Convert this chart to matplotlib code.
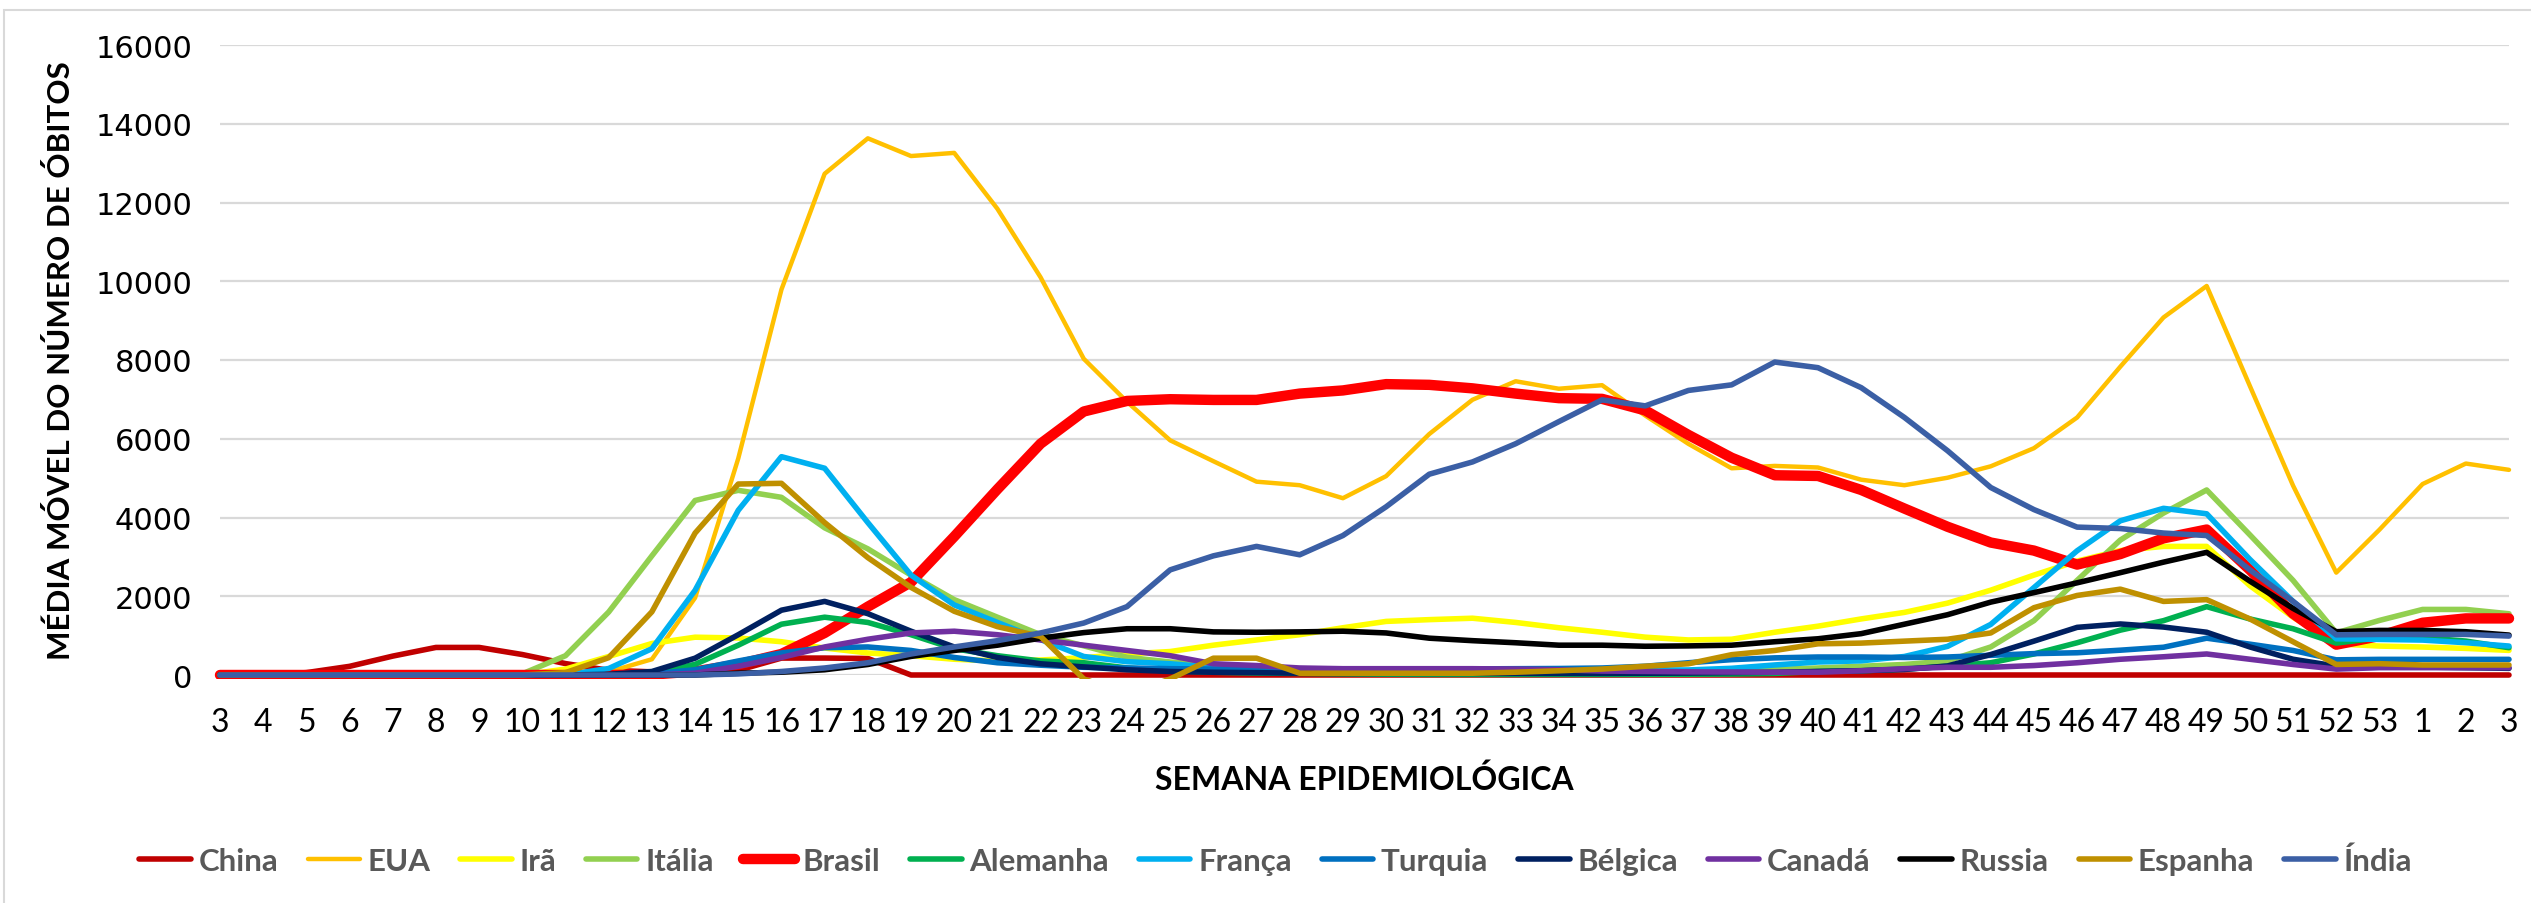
import matplotlib
matplotlib.use("Agg")
import matplotlib.pyplot as plt
from matplotlib.patches import Rectangle
from matplotlib.transforms import Bbox, TransformedBbox

# semanas epidemiologicas (2020 -> 2021)
semanas = [str(w) for w in range(3, 54)] + ["1", "2", "3"]

# media movel do numero de obitos, lida do grafico
# linhas: sem 3-12 | 13-22 | 23-32 | 33-42 | 43-52 | 53,1,2,3
china = [0, 0, 60, 220, 480, 700, 700, 520, 290, 120,
         80, 60, 120, 430, 430, 420, 0, 0, 0, 0,
         0, 0, 0, 0, 0, 0, 0, 0, 0, 0,
         0, 0, 0, 0, 0, 0, 0, 0, 0, 0,
         0, 0, 0, 0, 0, 0, 0, 0, 0, 0,
         0, 0, 0, 0]
eua = [0, 0, 0, 0, 0, 0, 0, 0, 20, 80,
       400, 1960, 5500, 9790, 12730, 13630, 13180, 13260, 11840, 10100,
       8030, 6940, 5960, 5430, 4910, 4820, 4490, 5050, 6120, 6990,
       7460, 7270, 7360, 6590, 5870, 5250, 5310, 5270, 4960, 4820,
       5010, 5300, 5760, 6540, 7830, 9080, 9880, 7340, 4810, 2600,
       3690, 4850, 5370, 5210]
ira = [0, 0, 0, 0, 0, 0, 0, 0, 150, 470,
       800, 960, 940, 845, 685, 560, 490, 400, 356, 380,
       440, 534, 596, 757, 890, 1023, 1200, 1361, 1406, 1442,
       1335, 1200, 1086, 961, 890, 908, 1086, 1240, 1424, 1590,
       1825, 2154, 2537, 2893, 3160, 3266, 3266, 2270, 1468, 790,
       735, 710, 676, 625]
italia = [0, 0, 0, 0, 0, 0, 0, 30, 490, 1600,
          3026, 4432, 4690, 4512, 3738, 3204, 2537, 1914, 1468, 1023,
          740, 450, 330, 250, 180, 120, 90, 70, 60, 60,
          60, 70, 80, 90, 100, 110, 140, 178, 222, 267,
          356, 712, 1380, 2403, 3427, 4112, 4699, 3560, 2403, 1070,
          1386, 1665, 1665, 1555]
brasil = [0, 0, 0, 0, 0, 0, 0, 0, 0, 0,
          10, 90, 270, 534, 1068, 1735, 2358, 3515, 4717, 5874,
          6692, 6960, 7004, 6986, 6986, 7147, 7227, 7387, 7369, 7280,
          7147, 7031, 7013, 6720, 6097, 5518, 5073, 5055, 4700, 4228,
          3765, 3364, 3160, 2804, 3071, 3471, 3694, 2670, 1558, 770,
          989, 1327, 1437, 1437]
alemanha = [0, 0, 0, 0, 0, 0, 0, 0, 0, 0,
            45, 270, 757, 1290, 1468, 1335, 1023, 668, 490, 356,
            311, 180, 110, 70, 50, 40, 30, 20, 15, 15,
            15, 15, 15, 15, 20, 25, 40, 89, 107, 151,
            222, 311, 534, 819, 1139, 1380, 1736, 1424, 1175, 810,
            946, 946, 862, 693]
franca = [0, 0, 0, 0, 0, 0, 0, 0, 0, 165,
          668, 2150, 4183, 5545, 5251, 3871, 2537, 1780, 1335, 900,
          470, 338, 285, 196, 160, 120, 100, 90, 90, 90,
          100, 110, 120, 128, 128, 170, 255, 330, 360, 470,
          727, 1285, 2220, 3155, 3916, 4233, 4094, 2937, 1869, 920,
          904, 887, 820, 735]
turquia = [0, 0, 0, 0, 0, 0, 0, 0, 0, 0,
           27, 133, 356, 560, 694, 712, 623, 445, 311, 249,
           196, 178, 160, 150, 150, 150, 150, 150, 150, 155,
           160, 165, 178, 222, 311, 390, 435, 457, 457, 445,
           457, 500, 543, 565, 630, 705, 935, 783, 623, 385,
           397, 397, 397, 397]
belgica = [0, 0, 0, 0, 0, 0, 0, 0, 0, 18,
           89, 427, 1023, 1646, 1869, 1558, 1112, 712, 445, 285,
           205, 133, 89, 70, 60, 45, 40, 40, 40, 40,
           40, 40, 40, 45, 50, 60, 70, 90, 110, 140,
           230, 520, 860, 1210, 1296, 1218, 1086, 712, 400, 225,
           228, 203, 186, 169]
canada = [0, 0, 0, 0, 0, 0, 0, 0, 0, 0,
          0, 45, 222, 445, 712, 908, 1068, 1112, 1023, 890,
          757, 623, 490, 285, 240, 178, 160, 160, 160, 160,
          150, 133, 100, 90, 80, 75, 70, 71, 107, 160,
          196, 196, 240, 311, 400, 463, 534, 400, 267, 150,
          186, 186, 186, 186]
russia = [0, 0, 0, 0, 0, 0, 0, 0, 0, 0,
          0, 0, 45, 71, 133, 267, 472, 623, 757, 935,
          1077, 1175, 1175, 1095, 1086, 1095, 1112, 1068, 935, 872,
          819, 757, 757, 730, 739, 757, 845, 920, 1050, 1290,
          1531, 1851, 2092, 2341, 2599, 2866, 3115, 2385, 1691, 1100,
          1132, 1132, 1099, 1014]
espanha = [0, 0, 0, 0, 0, 0, 0, 0, 60, 440,
           1605, 3604, 4850, 4868, 3871, 2981, 2225, 1619, 1228, 979,
           -100, -500, -100, 427, 427, 45, 45, 45, 45, 45,
           71, 107, 151, 222, 285, 516, 623, 792, 810, 860,
           908, 1068, 1709, 2020, 2180, 1869, 1914, 1424, 845, 268,
           287, 254, 254, 254]
india = [0, 0, 0, 0, 0, 0, 0, 0, 0, 0,
         0, 0, 27, 89, 178, 311, 534, 712, 872, 1068,
         1320, 1736, 2670, 3026, 3266, 3053, 3542, 4272, 5100, 5411,
         5874, 6435, 6987, 6835, 7227, 7369, 7948, 7805, 7298, 6542,
         5696, 4762, 4201, 3756, 3720, 3605, 3542, 2670, 1869, 1020,
         1031, 1031, 1031, 989]

paises = ["China", "EUA", "Irã", "Itália", "Brasil", "Alemanha", "França",
          "Turquia", "Bélgica", "Canadá", "Russia", "Espanha", "Índia"]
series = [china, eua, ira, italia, brasil, alemanha, franca,
          turquia, belgica, canada, russia, espanha, india]
cores = ["#C00000", "#FFC000", "#FFFF00", "#92D050", "#FF0000", "#00B050",
         "#00B0F0", "#0070C0", "#002060", "#7030A0", "#000000", "#BF9000",
         "#3B5FA5"]
larguras = [4, 3.2, 4, 4, 7.5, 4, 4, 4, 4, 4, 4, 4, 4]

W, H = 2531, 904
fig = plt.figure(figsize=(W / 100, H / 100), dpi=100)
ax = fig.add_axes([220 / W, 1 - 676 / H, (2509 - 220) / W, (676 - 46) / H])

x = list(range(len(semanas)))
clip = TransformedBbox(Bbox([[-0.01, -0.006], [1.01, 1.01]]), ax.transAxes)
for nome, y, c, lw in zip(paises, series, cores, larguras):
    ln, = ax.plot(x, y, color=c, lw=lw, label=nome,
                  solid_joinstyle="round", solid_capstyle="round")
    ln.set_clip_box(clip)

ax.set_xlim(0, len(semanas) - 1)
ax.set_ylim(0, 16000)
ax.set_yticks(range(0, 16001, 2000))
ax.set_xticks(x)
ax.set_xticklabels(semanas, fontfamily="Lato", fontsize=23)
for t in ax.get_yticklabels():
    t.set_fontfamily("DejaVu Sans")
    t.set_fontsize(22)
ax.tick_params(axis="both", length=0)
ax.tick_params(axis="x", pad=23)
ax.tick_params(axis="y", pad=20)
ax.yaxis.grid(True, color="#D9D9D9", lw=1.6)
ax.set_axisbelow(True)
for s in ax.spines.values():
    s.set_visible(False)

fig.text(61 / W, 1 - 361 / H, "MÉDIA MÓVEL DO NÚMERO DE ÓBITOS", rotation=90,
         ha="center", va="center", fontfamily="Lato", fontweight="bold",
         fontsize=22.5)
fig.text(1364 / W, 1 - 780 / H, "SEMANA EPIDEMIOLÓGICA", ha="center",
         va="center", fontfamily="Lato", fontweight="bold", fontsize=23)

leg = fig.legend(loc="center", bbox_to_anchor=(0.504, 1 - 862 / H), ncol=13,
                 frameon=False, handlelength=1.65, handletextpad=0.25,
                 columnspacing=0.95,
                 prop={"family": "Lato", "weight": "bold", "size": 22.5})
for t in leg.get_texts():
    t.set_color("#595959")

# moldura cinza do grafico
fig.add_artist(Rectangle((4 / W, -0.05), 1.2, 1.05 - 11 / H,
                         transform=fig.transFigure, fill=False,
                         ec="#D9D9D9", lw=1.5))

fig.savefig("out.png", dpi=100)
